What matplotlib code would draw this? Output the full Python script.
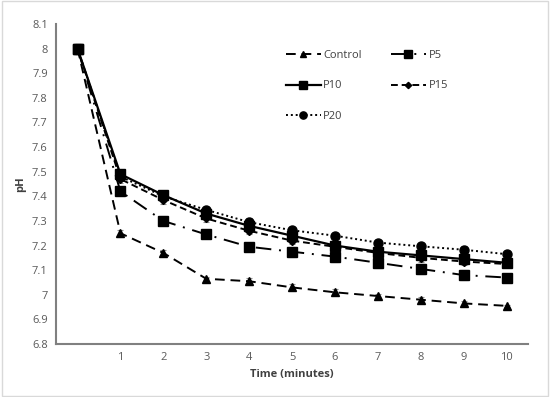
import matplotlib
matplotlib.use("Agg")
import matplotlib.pyplot as plt

plt.rcParams['font.family'] = ['Open Sans', 'DejaVu Sans']

time = [0, 1, 2, 3, 4, 5, 6, 7, 8, 9, 10]
tick_labels = ["", "1", "2", "3", "4", "5", "6", "7", "8", "9", "10"]

control = [8.00, 7.25, 7.17, 7.065, 7.055, 7.03, 7.01, 6.995, 6.98, 6.965, 6.955]
p5 = [8.00, 7.42, 7.30, 7.245, 7.195, 7.175, 7.155, 7.13, 7.105, 7.08, 7.07]
p10 = [8.00, 7.49, 7.405, 7.33, 7.28, 7.24, 7.20, 7.175, 7.16, 7.145, 7.13]
p15 = [8.00, 7.47, 7.385, 7.31, 7.26, 7.22, 7.195, 7.17, 7.15, 7.135, 7.125]
p20 = [8.00, 7.48, 7.40, 7.345, 7.295, 7.262, 7.24, 7.212, 7.197, 7.183, 7.165]

control_err = [0.02, 0.015, 0.012, 0.008, 0.015, 0.012, 0.012, 0.01, 0.01, 0.008, 0.004]
p5_err = [0.02, 0.015, 0.018, 0.012, 0.015, 0.02, 0.02, 0.02, 0.02, 0.02, 0.004]
p10_err = [0.02, 0.015, 0.01, 0.012, 0.012, 0.012, 0.015, 0.012, 0.012, 0.012, 0.008]
p15_err = [0.02, 0.015, 0.015, 0.015, 0.015, 0.015, 0.015, 0.015, 0.015, 0.015, 0.008]
p20_err = [0.02, 0.015, 0.01, 0.012, 0.015, 0.015, 0.01, 0.012, 0.015, 0.015, 0.008]

series = [
    ("Control", control, control_err, dict(linestyle=(0, (5, 3)), marker="^", markersize=5.5)),
    ("P5", p5, p5_err, dict(linestyle=(0, (8, 4, 1, 4)), marker="s", markersize=6.5)),
    ("P10", p10, p10_err, dict(linestyle="-", marker="s", markersize=6.5)),
    ("P15", p15, p15_err, dict(linestyle=(0, (3.5, 2)), marker="D", markersize=4)),
    ("P20", p20, p20_err, dict(linestyle=(0, (1, 1.5)), marker="o", markersize=6.5)),
]

fig = plt.figure(figsize=(5.5, 3.97), dpi=100)
ax = fig.add_axes([0.102, 0.1335, 0.858, 0.806])

handles = {}
for name, vals, errs, style in series:
    ax.errorbar(time, vals, yerr=errs, fmt="none", ecolor="#8c8c8c", elinewidth=0.8,
                capsize=2.5, capthick=0.8, zorder=2)
    lw = 1.6 if style["linestyle"] == "-" else 1.4
    line, = ax.plot(time, vals, color="black", linewidth=lw, zorder=3, **style)
    handles[name] = line

ax.set_xlim(-0.5, 10.5)
ax.set_ylim(6.8, 8.1)
ax.set_xticks(time)
ax.set_xticklabels(tick_labels)
yt = [6.8, 6.9, 7.0, 7.1, 7.2, 7.3, 7.4, 7.5, 7.6, 7.7, 7.8, 7.9, 8.0, 8.1]
ax.set_yticks(yt)
ax.set_yticklabels([("%g" % v) for v in yt])
ax.tick_params(axis="both", length=0, labelsize=8, colors="#595959", pad=6)

for s in ["top", "right"]:
    ax.spines[s].set_visible(False)
for s in ["left", "bottom"]:
    ax.spines[s].set_color("#808080")
    ax.spines[s].set_linewidth(1.5)

ax.set_xlabel("Time (minutes)", fontsize=8, fontweight="bold", color="#404040", labelpad=4)
ax.set_ylabel("pH", fontsize=8, fontweight="bold", color="#404040", labelpad=4)

order = ["Control", "P10", "P20", "P5", "P15"]
leg = ax.legend([handles[n] for n in order], order, ncol=2, frameon=False,
                loc="upper left", bbox_to_anchor=(0.465, 0.95), fontsize=8,
                handlelength=3.2, handletextpad=0.2, columnspacing=2.6,
                labelspacing=1.75, labelcolor="#404040", markerscale=0.8)

fig.patches.append(plt.Rectangle((0.003, 0.003), 0.994, 0.994, transform=fig.transFigure,
                                 fill=False, edgecolor="#d9d9d9", linewidth=1))

fig.savefig("out.png", dpi=100)
